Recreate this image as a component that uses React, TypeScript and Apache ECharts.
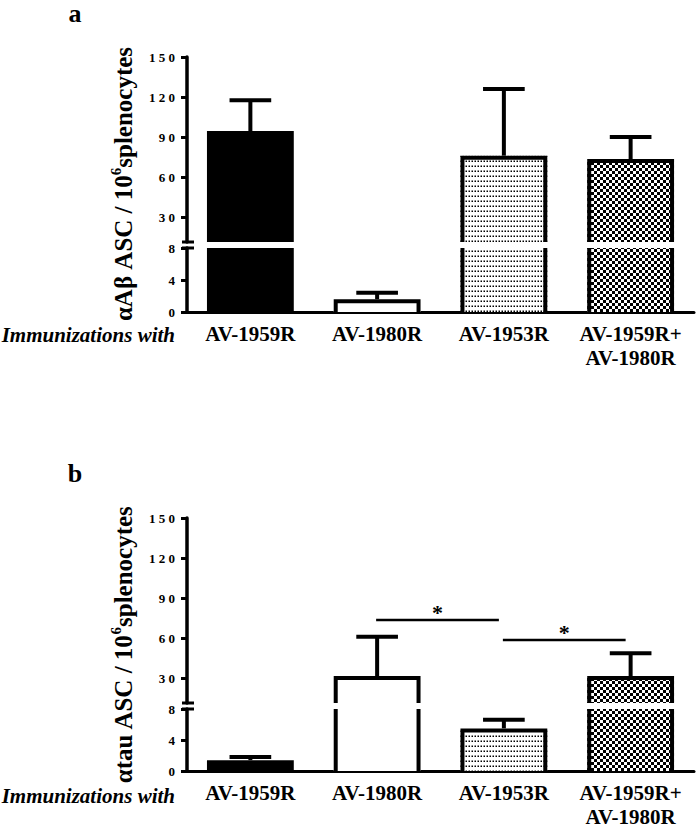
import React, { useEffect, useRef } from 'react';
import * as echarts from 'echarts';

// ---------- data ----------
const categories = ['AV-1959R', 'AV-1980R', 'AV-1953R', 'AV-1959R+\nAV-1980R'];
const meansA = [94.5, 1.6, 76, 73.5];
const errTopA = [117.5, 2.4, 126, 90];
const meansB = [1.4, 31.5, 5.5, 31.5];
const errTopB = [1.8, 61, 6.6, 48.5];
const upperTicks = [30, 60, 90, 120, 150];
const lowerTicks = [0, 4, 8];
const upperRange = [11.25, 150];
const lowerRange = [0, 8];
const fillKinds = ['solid', 'white', 'dots', 'checker'];
const sigFromB = [1, 2];
const sigToB = [2, 3];
const sigLevelB = [73.5, 58.5];
const panelLetters = ['a', 'b'];
const yTitlePrefix = ['αAβ ASC / 10', 'αtau ASC / 10'];
const yTitleSup = '6';
const yTitleSuffix = 'splenocytes';
const xLead = 'Immunizations with';

const F = '"Liberation Serif", "Times New Roman", serif';
const OFFSET = 461;

function makeDots(): string {
  const c = document.createElement('canvas');
  c.width = 6; c.height = 10;
  const g = c.getContext('2d')!;
  g.fillStyle = '#fff'; g.fillRect(0, 0, 6, 10);
  g.fillStyle = '#000'; g.fillRect(1, 1, 3, 3);
  return c.toDataURL();
}
function makeChecker(): string {
  const c = document.createElement('canvas');
  c.width = 6; c.height = 6;
  const g = c.getContext('2d')!;
  g.fillStyle = '#000'; g.fillRect(0, 0, 6, 6);
  g.fillStyle = '#fff'; g.fillRect(0, 0, 3, 3); g.fillRect(3, 3, 3, 3);
  return c.toDataURL();
}

export default function App() {
  const ref = useRef<HTMLDivElement>(null);
  useEffect(() => {
    if (!ref.current) return;
    const chart = echarts.init(ref.current, null, { renderer: 'svg' });
    const dots = makeDots();
    const checker = makeChecker();
    const fillFor = (k: string): any => {
      if (k === 'solid') return '#000';
      if (k === 'white') return '#fff';
      if (k === 'dots') return { image: dots, repeat: 'repeat', imageWidth: 6, imageHeight: 10, scaleX: 0.5, scaleY: 0.5 };
      return { image: checker, repeat: 'repeat', imageWidth: 6, imageHeight: 6 };
    };

    const makeRender = (range: number[], isUpper: boolean) => (params: any, api: any) => {
      const [lo, hi] = range;
      const i = api.value(0);
      const v = api.value(1);
      const e = api.value(2);
      const kind = fillKinds[i];
      const base = api.coord([i, lo]);
      const xC = base[0];
      const yB = base[1];
      const band = api.size([1, 0])[0];
      const bw = band * 0.685;
      const x0 = xC - bw / 2;
      const x1 = xC + bw / 2;
      const lw = 4;
      const children: any[] = [];
      if (i === 0) {
        const ax = xC - band / 2;
        const yMark = isUpper ? yB : api.coord([i, hi])[1];
        children.push({ type: 'line', shape: { x1: ax - 5, y1: yMark, x2: ax + 7, y2: yMark }, style: { stroke: '#000', lineWidth: 3 } });
      }
      if (v > lo) {
        const top = Math.min(v, hi);
        const yT = api.coord([i, top])[1];
        const clipped = v > hi;
        children.push({ type: 'rect', shape: { x: x0, y: yT, width: bw, height: yB - yT }, style: { fill: fillFor(kind) } });
        if (kind !== 'solid') {
          if (!clipped) {
            children.push({ type: 'polyline', shape: { points: [[x0 + lw / 2, yB], [x0 + lw / 2, yT + lw / 2], [x1 - lw / 2, yT + lw / 2], [x1 - lw / 2, yB]] }, style: { stroke: '#000', lineWidth: lw, fill: null } });
          } else {
            children.push({ type: 'line', shape: { x1: x0 + lw / 2, y1: yB, x2: x0 + lw / 2, y2: yT }, style: { stroke: '#000', lineWidth: lw } });
            children.push({ type: 'line', shape: { x1: x1 - lw / 2, y1: yB, x2: x1 - lw / 2, y2: yT }, style: { stroke: '#000', lineWidth: lw } });
          }
        }
        if (!clipped) {
          const yE = api.coord([i, e])[1];
          const capW = bw * 0.48;
          children.push({ type: 'line', shape: { x1: xC, y1: yT, x2: xC, y2: yE }, style: { stroke: '#000', lineWidth: 4 } });
          children.push({ type: 'line', shape: { x1: xC - capW / 2, y1: yE, x2: xC + capW / 2, y2: yE }, style: { stroke: '#000', lineWidth: 4 } });
        }
      }
      return { type: 'group', children };
    };

    const sigRender = (params: any, api: any) => {
      const a = api.coord([api.value(0), api.value(2)]);
      const b = api.coord([api.value(1), api.value(2)]);
      const xa = a[0] - 1;
      const xb = b[0] - 5;
      const y = a[1];
      return {
        type: 'group',
        children: [
          { type: 'line', shape: { x1: xa, y1: y, x2: xb, y2: y }, style: { stroke: '#000', lineWidth: 2.5 } },
          { type: 'text', x: (xa + xb) / 2, y: y + 3, style: { text: '*', fontFamily: F, fontWeight: 'bold', fontSize: 22, fill: '#000', align: 'center', verticalAlign: 'bottom' } },
        ],
      };
    };

    const panels = [
      { means: meansA, errs: errTopA },
      { means: meansB, errs: errTopB },
    ];
    const grids: any[] = [];
    const xAxes: any[] = [];
    const yAxes: any[] = [];
    const series: any[] = [];
    const graphics: any[] = [];
    const spaced = (v: number) => String(v).split('').join(' ');

    panels.forEach((p, pi) => {
      const off = pi * OFFSET;
      grids.push({ left: 187, right: 3, top: 57 + off, height: 185 });
      grids.push({ left: 187, right: 3, top: 248 + off, height: 64 });
      [0, 1].forEach((part) => {
        const gi = pi * 2 + part;
        const isUpper = part === 0;
        const range = isUpper ? upperRange : lowerRange;
        const ticks = isUpper ? upperTicks : lowerTicks;
        xAxes.push({
          type: 'category', gridIndex: gi, data: categories, boundaryGap: true,
          show: !isUpper,
          axisLine: { show: !isUpper, lineStyle: { color: '#000', width: 3 } },
          axisTick: { show: false },
          axisLabel: { show: !isUpper, interval: 0, margin: 10, color: '#000', fontFamily: F, fontWeight: 'bold', fontSize: 21, lineHeight: 24 },
          splitLine: { show: false },
        });
        yAxes.push({
          type: 'value', gridIndex: gi, min: range[0], max: range[1],
          axisLine: { show: true, lineStyle: { color: '#000', width: 3.5 } },
          axisTick: { show: true, length: 6, lineStyle: { color: '#000', width: 3 }, customValues: ticks },
          axisLabel: { show: true, customValues: ticks, formatter: (v: number) => spaced(v), margin: 12, color: '#000', fontFamily: F, fontWeight: 'bold', fontSize: 13 },
          splitLine: { show: false },
        });
        series.push({
          type: 'custom', xAxisIndex: gi, yAxisIndex: gi, silent: true,
          data: p.means.map((m, i) => [i, m, p.errs[i]]),
          renderItem: makeRender(range, isUpper),
        });
      });
      graphics.push({ type: 'text', x: 75, y: 13 + off - (pi ? 1 : 0), style: { text: panelLetters[pi], fontFamily: F, fontWeight: 'bold', fontSize: 26, fill: '#000', align: 'center', verticalAlign: 'middle' } });
      graphics.push({ type: 'text', x: 175, y: 335 + off, style: { text: xLead, fontFamily: F, fontWeight: 'bold', fontStyle: 'italic', fontSize: 21, fill: '#000', align: 'right', verticalAlign: 'middle' } });
      graphics.push({
        type: 'text', x: 122, y: 184 + off, rotation: Math.PI / 2,
        style: {
          text: `{t|${yTitlePrefix[pi]}}{s|${yTitleSup}}{t|${yTitleSuffix}}`,
          align: 'center', verticalAlign: 'middle', fill: '#000',
          rich: {
            t: { fontFamily: F, fontWeight: 'bold', fontSize: 25, fill: '#000', lineHeight: 28, verticalAlign: 'bottom' },
            s: { fontFamily: F, fontWeight: 'bold', fontSize: 15, fill: '#000', lineHeight: 28, verticalAlign: 'top' },
          },
        },
      });
    });

    series.push({
      type: 'custom', xAxisIndex: 2, yAxisIndex: 2, silent: true,
      data: sigFromB.map((f, k) => [f, sigToB[k], sigLevelB[k]]),
      renderItem: sigRender,
    });

    chart.setOption({
      animation: false,
      backgroundColor: '#fff',
      grid: grids,
      xAxis: xAxes,
      yAxis: yAxes,
      series,
      graphic: graphics,
    });
    return () => chart.dispose();
  }, []);
  return <div ref={ref} style={{ position: 'absolute', left: 0, top: 0, width: 697, height: 829 }} />;
}
